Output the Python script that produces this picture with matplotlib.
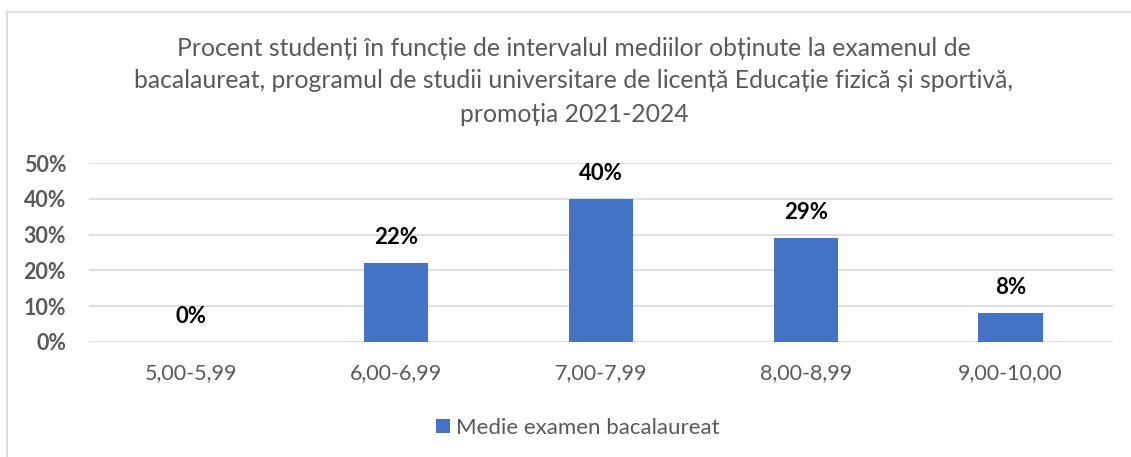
import matplotlib
matplotlib.use("Agg")
import matplotlib.pyplot as plt
from matplotlib.patches import Rectangle
from matplotlib.ticker import FuncFormatter

categories = ["5,00-5,99", "6,00-6,99", "7,00-7,99", "8,00-8,99", "9,00-10,00"]
values = [0, 22, 40, 29, 8]
series_name = "Medie examen bacalaureat"
title_lines = [
    "Procent studenți în funcție de intervalul mediilor obținute la examenul de",
    "bacalaureat, programul de studii universitare de licență Educație fizică și sportivă,",
    "promoția 2021-2024",
]
yticks = [0, 10, 20, 30, 40, 50]

W, H = 1131, 457
plt.rcParams['font.family'] = ['Lato', 'DejaVu Sans']
fig = plt.figure(figsize=(W / 100, H / 100), dpi=100)
fig.patch.set_facecolor("white")

# chart border
fig.patches.append(Rectangle((7 / W, -0.01), 1.2, (H - 12) / H + 0.01, transform=fig.transFigure,
                             fill=False, edgecolor="#D9D9D9", linewidth=1.2))

ax = fig.add_axes([89 / W, (H - 342) / H, (1113 - 89) / W, (342 - 163) / H])
x = list(range(len(categories)))
bars = ax.bar(x, values, width=0.315, color="#4472C4", zorder=3, label=series_name)
ax.set_ylim(0, 50)
ax.set_xlim(-0.5, len(categories) - 0.5)
ax.set_yticks(yticks)
ax.yaxis.set_major_formatter(FuncFormatter(lambda v, p: f"{int(v)}%"))
ax.grid(axis="y", color="#D9D9D9", linewidth=1.2, zorder=0)
for s in ax.spines.values():
    s.set_visible(False)
ax.tick_params(axis="y", length=0, pad=16.5, labelsize=15.5, labelcolor="#595959")
for lbl in ax.get_yticklabels():
    lbl.set_fontweight("bold")
ax.set_xticks(x)
ax.set_xticklabels(categories)
ax.tick_params(axis="x", length=0, pad=15, labelsize=15.5, labelcolor="#595959")

for xi, v in zip(x, values):
    ax.annotate(f"{v}%", (xi, v), xytext=(0, 18.5), textcoords="offset points",
                ha="center", va="center", fontsize=16, fontweight="bold", color="black")

for i, line in enumerate(title_lines):
    fig.text(574 / W, 1 - (48 + i * 33) / H, line, ha="center", va="center",
             fontsize=17.8, color="#595959")

leg = fig.legend(handles=[bars], labels=[series_name], loc="center",
                 bbox_to_anchor=(578 / W, 1 - 428 / H), frameon=False,
                 fontsize=16, handlelength=0.6, handleheight=0.6, handletextpad=0.3)
for t in leg.get_texts():
    t.set_color("#595959")

fig.savefig("out.png", dpi=100, facecolor="white")
